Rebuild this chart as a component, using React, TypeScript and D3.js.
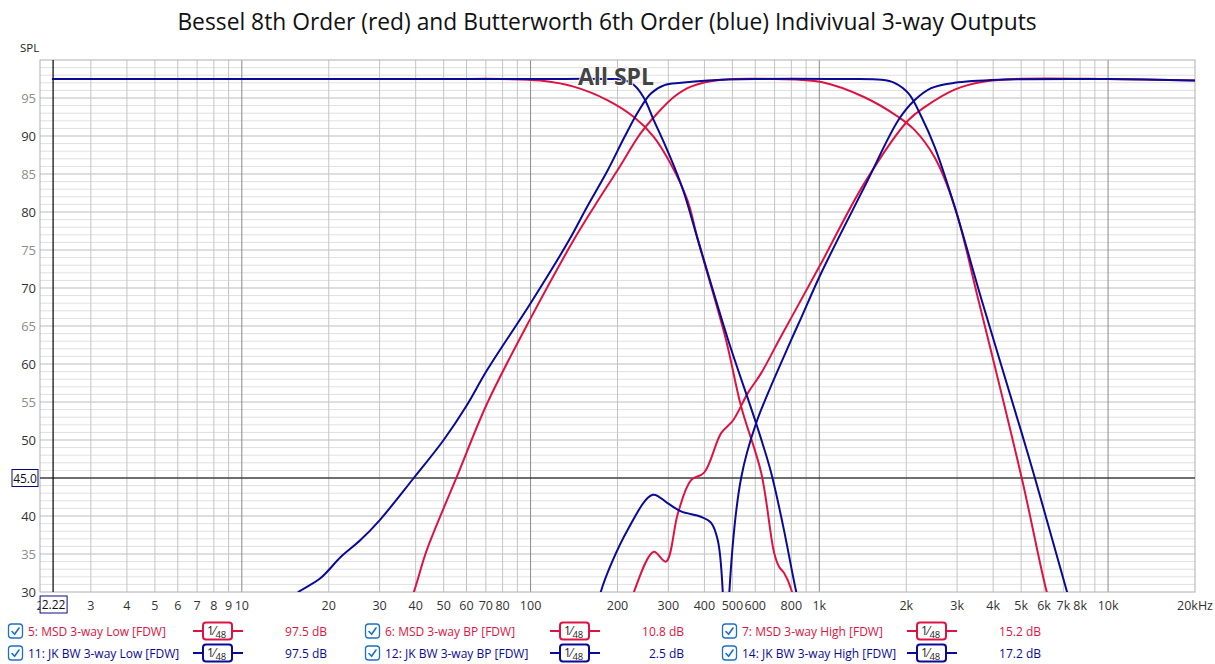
import { useRef, useEffect } from 'react';
import * as d3 from 'd3';

// ---- data (frequency in Hz, level in dB SPL) ----
const redLowHz = [2.2, 50, 80, 108, 141, 185, 228, 267, 305, 349, 380, 475, 536, 629, 698, 726, 755, 800, 830];
const redLowDb = [97.5, 97.5, 97.5, 97.3, 96.5, 94.7, 92.5, 89.9, 86.4, 81.6, 76.3, 63.2, 54.4, 45.7, 35.1, 33.3, 32.5, 30.3, 27];

const redBpHz = [37, 39.4, 43.7, 55.6, 70.7, 100, 141, 166, 200, 241, 275, 315, 359, 457, 700, 1016, 1433, 1879, 2136, 2507, 2942, 3557, 5023, 6133, 6600];
const redBpDb = [27.5, 30, 35.5, 45.2, 54.8, 66.0, 76.3, 80.7, 85.5, 90.4, 93.0, 95.2, 96.5, 97.4, 97.5, 97.1, 95.1, 92.5, 90.8, 87.2, 80.7, 68.4, 45.0, 30, 26];

const redHighHz = [220, 228, 267, 294, 324, 359, 399, 457, 503, 566, 629, 726, 800, 1016, 1433, 2036, 2316, 2942, 3651, 4753, 10000, 20000];
const redHighDb = [28, 30, 35.3, 34.0, 40.4, 44.7, 45.7, 50.9, 52.6, 56.2, 58.8, 63.2, 66.1, 73.3, 83.8, 92.1, 93.8, 96.1, 97.1, 97.5, 97.5, 97.3];

const blueLowHz = [2.2, 100, 180, 210, 228, 247, 267, 290, 314, 340, 380, 483, 604, 681, 750, 832, 870];
const blueLowDb = [97.5, 97.5, 97.5, 97.4, 96.7, 95.0, 92.1, 89.1, 86.0, 82.5, 76.3, 63.2, 52.2, 45.7, 38.6, 30, 27];

const blueBpHz = [15, 15.7, 18.7, 22, 25.7, 30.1, 39.4, 50, 60, 70.7, 100, 136, 157, 185, 211, 235, 261, 291, 332, 411, 600, 1200, 1641, 1820, 2036, 2259, 2507, 2942, 3651, 5023, 5580, 7211, 7600];
const blueBpDb = [29.3, 30, 31.8, 34.6, 36.8, 39.5, 45.0, 50.0, 54.5, 59.2, 68.0, 76.3, 80.7, 85.5, 89.8, 93.1, 95.6, 96.7, 97.0, 97.3, 97.5, 97.5, 97.4, 97.0, 95.6, 92.5, 88.6, 80.7, 68.4, 50.9, 45.0, 30, 27];

const blueHighHz = [170, 175, 217, 265, 298, 332, 389, 422, 445, 463, 475, 488, 536, 604, 800, 866, 1016, 1433, 1879, 2136, 2440, 2942, 4190, 10000, 20000];
const blueHighDb = [27, 30, 38.2, 42.8, 41.7, 40.6, 39.9, 39.1, 36.8, 30, 5, 30, 45.0, 52.2, 63.2, 66.1, 72.0, 83.3, 92.1, 94.7, 96.3, 97.0, 97.4, 97.5, 97.3];

const RED = '#dc1443';
const BLUE = '#0a0a96';

const legendNames = [
  '5: MSD 3-way Low [FDW]', '11: JK BW 3-way Low [FDW]',
  '6: MSD 3-way BP [FDW]', '12: JK BW 3-way BP [FDW]',
  '7: MSD 3-way High [FDW]', '14: JK BW 3-way High [FDW]',
];
const legendValues = ['97.5 dB', '97.5 dB', '10.8 dB', '2.5 dB', '15.2 dB', '17.2 dB'];

const xTickValues = [2, 3, 4, 5, 6, 7, 8, 9, 10, 20, 30, 40, 50, 60, 70, 80, 100, 200, 300, 400, 500, 600, 800,
  1000, 2000, 3000, 4000, 5000, 6000, 7000, 8000, 10000, 20000];
const yTickValues = [30, 35, 40, 50, 55, 60, 65, 70, 75, 80, 85, 90, 95];

const cursorHz = 2.22;
const cursorDb = 45.0;

function fmtHz(v: number): string {
  if (v === 20000) return '20kHz';
  if (v >= 1000) return `${v / 1000}k`;
  return `${v}`;
}

export default function App() {
  const svgRef = useRef<SVGSVGElement>(null);

  useEffect(() => {
    if (!svgRef.current) return;
    const svg = d3.select(svgRef.current);
    svg.selectAll('*').remove();

    const W = 1215, H = 664;
    const margin = { top: 60, right: 20, bottom: 72, left: 40 };
    const innerR = W - margin.right;
    const innerB = H - margin.bottom;

    svg.attr('width', W).attr('height', H);
    svg.append('rect').attr('width', W).attr('height', H).attr('fill', '#fff');

    const x = d3.scaleLog().domain([2, 20000]).range([margin.left, innerR]);
    const y = d3.scaleLinear().domain([30, 100]).range([innerB, margin.top]);

    const font = '"Open Sans", "Noto Sans", sans-serif';

    // title
    svg.append('text')
      .attr('x', 607).attr('y', 30)
      .attr('text-anchor', 'middle')
      .attr('font-family', font).attr('font-size', 22.8)
      .attr('fill', '#111')
      .text('Bessel 8th Order (red) and Butterworth 6th Order (blue) Indivivual 3-way Outputs');

    svg.append('text')
      .attr('x', 20).attr('y', 52)
      .attr('font-family', font).attr('font-size', 11.5)
      .attr('fill', '#222')
      .text('SPL');

    // grid: horizontal, 1 dB steps
    const grid = svg.append('g');
    d3.range(31, 100).forEach((v) => {
      grid.append('line')
        .attr('x1', margin.left).attr('x2', innerR)
        .attr('y1', y(v)).attr('y2', y(v))
        .attr('stroke', v % 5 === 0 ? '#bdbdbd' : '#e0e0e0')
        .attr('stroke-width', 1);
    });

    // grid: vertical, 1-9 per decade
    const vLines: number[] = [];
    [1, 10, 100, 1000, 10000].forEach((dec) => {
      for (let m = 1; m < 10; m++) {
        const f = dec * m;
        if (f > 2 && f < 20000) vLines.push(f);
      }
    });
    vLines.forEach((f) => {
      const isDecade = [10, 100, 1000, 10000].includes(f);
      grid.append('line')
        .attr('x1', x(f)).attr('x2', x(f))
        .attr('y1', margin.top).attr('y2', innerB)
        .attr('stroke', isDecade ? '#8a8a8a' : '#c4c4c4')
        .attr('stroke-width', 1);
    });

    // frame
    svg.append('rect')
      .attr('x', margin.left).attr('y', margin.top)
      .attr('width', innerR - margin.left).attr('height', innerB - margin.top)
      .attr('fill', 'none').attr('stroke', '#b0b0b0');

    // cursor lines
    svg.append('line')
      .attr('x1', margin.left).attr('x2', innerR)
      .attr('y1', y(cursorDb)).attr('y2', y(cursorDb))
      .attr('stroke', '#000').attr('stroke-width', 1);
    svg.append('line')
      .attr('x1', x(cursorHz)).attr('x2', x(cursorHz))
      .attr('y1', margin.top).attr('y2', innerB)
      .attr('stroke', '#000').attr('stroke-width', 1.2);

    // curves
    svg.append('defs').append('clipPath').attr('id', 'plot-clip')
      .append('rect')
      .attr('x', margin.left).attr('y', margin.top)
      .attr('width', innerR - margin.left).attr('height', innerB - margin.top);

    const series = [
      { hz: redLowHz, db: redLowDb, color: RED },
      { hz: redBpHz, db: redBpDb, color: RED },
      { hz: redHighHz, db: redHighDb, color: RED },
      { hz: blueLowHz, db: blueLowDb, color: BLUE },
      { hz: blueBpHz, db: blueBpDb, color: BLUE },
      { hz: blueHighHz, db: blueHighDb, color: BLUE },
    ];

    const line = d3.line<[number, number]>()
      .x((d) => x(d[0]))
      .y((d) => y(d[1]))
      .curve(d3.curveCatmullRom.alpha(0.5));

    const curves = svg.append('g').attr('clip-path', 'url(#plot-clip)');
    series.forEach((s) => {
      const pts = s.hz.map((f, i) => [f, s.db[i]] as [number, number]);
      curves.append('path')
        .attr('d', line(pts))
        .attr('fill', 'none')
        .attr('stroke', s.color)
        .attr('stroke-width', 2)
        .attr('stroke-linejoin', 'round');
    });

    // "All SPL" overlay label
    svg.append('text')
      .attr('x', 616).attr('y', 85)
      .attr('text-anchor', 'middle')
      .attr('font-family', font).attr('font-size', 23).attr('font-weight', 700)
      .attr('fill', '#444')
      .attr('stroke', '#fff').attr('stroke-width', 1.5)
      .attr('paint-order', 'stroke')
      .text('All SPL');

    // y tick labels
    yTickValues.forEach((v) => {
      svg.append('text')
        .attr('x', 36).attr('y', y(v) + 4.5)
        .attr('text-anchor', 'end')
        .attr('font-family', font).attr('font-size', 13)
        .attr('fill', v % 10 === 0 ? '#333' : '#8c8c8c')
        .text(`${v}`);
    });

    // x tick labels
    xTickValues.forEach((v) => {
      svg.append('text')
        .attr('x', x(v)).attr('y', 610)
        .attr('text-anchor', 'middle')
        .attr('font-family', font).attr('font-size', 12.5)
        .attr('fill', '#333')
        .text(fmtHz(v));
    });

    // cursor readout boxes
    const box = (bx: number, by: number, bw: number, bh: number, label: string) => {
      svg.append('rect')
        .attr('x', bx).attr('y', by).attr('width', bw).attr('height', bh)
        .attr('fill', '#fff').attr('stroke', '#0a0a80').attr('stroke-width', 1);
      svg.append('text')
        .attr('x', bx + bw / 2).attr('y', by + bh / 2 + 4.5)
        .attr('text-anchor', 'middle')
        .attr('font-family', font).attr('font-size', 12)
        .attr('fill', '#111')
        .text(label);
    };
    box(12, y(cursorDb) - 8.5, 26, 17, cursorDb.toFixed(1));
    box(x(cursorHz) - 13, 596, 27, 17, `${cursorHz}`);

    // legend
    const colX = [0, 357, 714];
    const rowY = [631, 653];
    legendNames.forEach((name, i) => {
      const col = Math.floor(i / 2);
      const row = i % 2;
      const color = row === 0 ? RED : BLUE;
      const ox = colX[col];
      const cy = rowY[row];
      const g = svg.append('g').attr('transform', `translate(${ox},${cy})`);

      // checkbox
      g.append('rect')
        .attr('x', 8.5).attr('y', -7).attr('width', 14).attr('height', 14).attr('rx', 3)
        .attr('fill', '#fff').attr('stroke', '#1c6fc4').attr('stroke-width', 1.3);
      g.append('path')
        .attr('d', 'M12,0.5 L14.6,3.3 L19,-3')
        .attr('fill', 'none').attr('stroke', '#1c6fc4').attr('stroke-width', 1.6)
        .attr('stroke-linecap', 'round').attr('stroke-linejoin', 'round');

      g.append('text')
        .attr('x', 28).attr('y', 4.5)
        .attr('font-family', font).attr('font-size', 12)
        .attr('fill', color)
        .text(name);

      // line symbol with smoothing box
      g.append('line')
        .attr('x1', 193).attr('x2', 243).attr('y1', 0).attr('y2', 0)
        .attr('stroke', color).attr('stroke-width', 2);
      g.append('rect')
        .attr('x', 203).attr('y', -8.5).attr('width', 29).attr('height', 17).attr('rx', 3)
        .attr('fill', '#fff').attr('stroke', color).attr('stroke-width', 2);
      const t = g.append('text')
        .attr('x', 207).attr('y', 4)
        .attr('font-family', font).attr('font-size', 12)
        .attr('fill', '#222');
      t.append('tspan').text('1⁄');
      t.append('tspan').attr('font-size', 9.5).attr('dy', 2.5).text('48');

      g.append('text')
        .attr('x', 327).attr('y', 4.5)
        .attr('text-anchor', 'end')
        .attr('font-family', font).attr('font-size', 12)
        .attr('fill', color)
        .text(legendValues[i]);
    });
  }, []);

  return (
    <div style={{ position: 'absolute', left: 0, top: 0 }}>
      <svg ref={svgRef} style={{ display: 'block' }} />
    </div>
  );
}
